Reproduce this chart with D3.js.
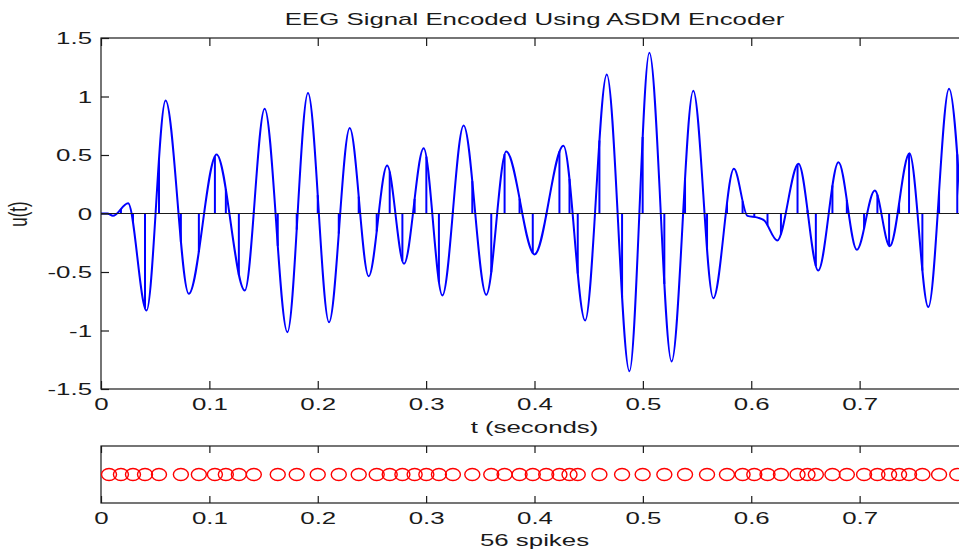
<!DOCTYPE html>
<html>
<head>
<meta charset="utf-8">
<script src="https://cdn.jsdelivr.net/npm/d3@7"></script>
<style>
body{margin:0;background:#fff;}
svg{display:block;font-family:Arial,"Liberation Sans",sans-serif;}
</style>
</head>
<body>
<svg id="eeg_svg"></svg>
<script>
// signal extrema (t in seconds, u(t))
var sigT = [0,0.006,0.011,0.025,0.042,0.0596,0.081,0.1066,0.1327,0.151,
            0.172,0.191,0.2104,0.2295,0.247,0.264,0.2796,0.2977,0.315,0.3346,
            0.3555,0.3739,0.400,0.4267,0.4467,0.4667,0.4876,0.506,0.5265,0.5465,
            0.565,0.584,0.5965,0.606,0.612,0.624,0.6436,0.6618,0.6805,0.6974,
            0.714,0.7278,0.746,0.7634,0.7825,0.795];
var sigU = [0,0,-0.02,0.088,-0.83,0.966,-0.686,0.504,-0.658,0.895,
            -1.014,1.03,-0.929,0.73,-0.536,0.41,-0.43,0.558,-0.70,0.752,
            -0.695,0.53,-0.35,0.58,-0.915,1.188,-1.348,1.373,-1.265,1.05,
            -0.724,0.382,-0.02,-0.035,-0.06,-0.23,0.425,-0.487,0.438,-0.31,
            0.197,-0.28,0.515,-0.80,1.066,-0.2];
// spike times (56)
var spikeT = [0.0074,0.0184,0.0295,0.0406,0.0535,0.0737,0.0903,0.1051,0.1152,0.1272,
              0.1410,0.1631,0.1806,0.2000,0.2194,0.2378,0.2544,0.2664,0.2781,0.2894,
              0.3002,0.3118,0.3247,0.3426,0.3601,0.3724,0.3862,0.3984,0.4108,0.4230,
              0.4323,0.4399,0.4599,0.4808,0.4998,0.5198,0.5389,0.5592,0.5776,0.5920,
              0.6028,0.6150,0.6274,0.6427,0.6519,0.6596,0.6749,0.6882,0.7041,0.7164,
              0.7272,0.7364,0.7456,0.7579,0.7733,0.7901];
var xTicks = [0,0.1,0.2,0.3,0.4,0.5,0.6,0.7];
var yTicks = [-1.5,-1,-0.5,0,0.5,1,1.5];
var titleText = "EEG Signal Encoded Using ASDM Encoder";
var xLabel = "t (seconds)";
var yLabel = "u(t)";
var spikeLabel = spikeT.length + " spikes";

var W = 959, H = 554, sx = 1.52, fs = 17;
var margin = {left: 101, right: 968, top: 38, bottom: 389};
var low = {top: 446, bottom: 503};
var ink = "#1a1a1a";

var svg = d3.select("#eeg_svg").attr("width", W).attr("height", H);

var x = d3.scaleLinear().domain([0, 0.8]).range([margin.left, margin.right]);
var y = d3.scaleLinear().domain([-1.5, 1.5]).range([margin.bottom, margin.top]);
var fmt = function(d){ return String(d); };

svg.append("clipPath").attr("id","clipTop").append("rect")
    .attr("x", margin.left).attr("y", margin.top)
    .attr("width", margin.right - margin.left).attr("height", margin.bottom - margin.top);

// ---- top panel ----
var sig = sigT.map(function(t, i){ return {t: t, u: sigU[i]}; });
var plot = svg.append("g").attr("clip-path", "url(#clipTop)");
var curve = plot.append("path")
    .datum(sig)
    .attr("fill", "none")
    .attr("stroke", "#0000ff")
    .attr("stroke-width", 2)
    .attr("d", d3.line().curve(d3.curveMonotoneX)
        .x(function(d){ return x(d.t); })
        .y(function(d){ return y(d.u); }));

// stems at spike times, from zero to the curve
var node = curve.node(), L = node.getTotalLength(), pts = [];
for (var s = 0; s <= L; s += 0.5) pts.push(node.getPointAtLength(s));
function curveY(px){
    var best = pts[0];
    for (var i = 1; i < pts.length; i++)
        if (Math.abs(pts[i].x - px) < Math.abs(best.x - px)) best = pts[i];
    return best.y;
}
plot.selectAll(".stem").data(spikeT).enter().append("line")
    .attr("class","stem")
    .attr("x1", function(d){ return x(d); }).attr("x2", function(d){ return x(d); })
    .attr("y1", y(0))
    .attr("y2", function(d){ return curveY(x(d)); })
    .attr("stroke", "#0000ff").attr("stroke-width", 2);

plot.append("line")
    .attr("x1", x(0)).attr("x2", x(0.8)).attr("y1", y(0)).attr("y2", y(0))
    .attr("stroke", ink).attr("stroke-width", 1.2);

function styleText(sel){
    sel.attr("fill", ink).style("font-size", fs + "px").style("font-family", "Arial, 'Liberation Sans', sans-serif");
}

var gx = svg.append("g").attr("transform", "translate(0," + margin.bottom + ")")
    .call(d3.axisBottom(x).tickValues(xTicks).tickFormat(fmt).tickSize(-8).tickSizeOuter(0));
var gxt = svg.append("g").attr("transform", "translate(0," + margin.top + ")")
    .call(d3.axisTop(x).tickValues(xTicks).tickFormat("").tickSize(-8).tickSizeOuter(0));
var gy = svg.append("g").attr("transform", "translate(" + margin.left + ",0)")
    .call(d3.axisLeft(y).tickValues(yTicks).tickFormat(fmt).tickSize(-8).tickSizeOuter(0));
var gyr = svg.append("g").attr("transform", "translate(" + margin.right + ",0)")
    .call(d3.axisRight(y).tickValues(yTicks).tickFormat("").tickSize(-8).tickSizeOuter(0));

[gx, gxt, gy, gyr].forEach(function(g){
    g.select(".domain").remove();
    g.selectAll(".tick line").attr("stroke", ink).attr("stroke-width", 1.2);
    g.selectAll("text").call(styleText);
});
gx.selectAll("text").attr("y", 21).attr("dy", null).attr("transform", "scale(" + sx + ",1)");
gy.selectAll("text").attr("x", -9 / sx).attr("dy", "0.35em").attr("transform", "scale(" + sx + ",1)");

svg.append("rect")
    .attr("x", margin.left).attr("y", margin.top)
    .attr("width", margin.right - margin.left).attr("height", margin.bottom - margin.top)
    .attr("fill", "none").attr("stroke", ink).attr("stroke-width", 1.2);

// ---- bottom panel (spikes) ----
var yLow = (low.top + low.bottom) / 2;
var lx = svg.append("g").attr("transform", "translate(0," + low.bottom + ")")
    .call(d3.axisBottom(x).tickValues(xTicks).tickFormat(fmt).tickSize(-7).tickSizeOuter(0));
var lxt = svg.append("g").attr("transform", "translate(0," + low.top + ")")
    .call(d3.axisTop(x).tickValues(xTicks).tickFormat("").tickSize(-7).tickSizeOuter(0));
[lx, lxt].forEach(function(g){
    g.select(".domain").remove();
    g.selectAll(".tick line").attr("stroke", ink).attr("stroke-width", 1.2);
    g.selectAll("text").call(styleText);
});
lx.selectAll("text").attr("y", 21).attr("dy", null).attr("transform", "scale(" + sx + ",1)");

svg.append("rect")
    .attr("x", margin.left).attr("y", low.top)
    .attr("width", margin.right - margin.left).attr("height", low.bottom - low.top)
    .attr("fill", "none").attr("stroke", ink).attr("stroke-width", 1.2);

svg.selectAll(".spike").data(spikeT).enter().append("ellipse")
    .attr("class", "spike")
    .attr("cx", function(d){ return x(d); })
    .attr("cy", yLow)
    .attr("rx", 7.5).attr("ry", 6)
    .attr("fill", "none").attr("stroke", "#ff0000").attr("stroke-width", 1.4);

// ---- labels ----
var cx = (margin.left + margin.right) / 2;
function label(txt, px, py, rot){
    svg.append("text")
        .attr("transform", "translate(" + px + "," + py + ") scale(" + sx + ",1)" + (rot ? " rotate(-90)" : ""))
        .attr("text-anchor", "middle")
        .text(txt).call(styleText);
}
label(titleText, cx, 25);
label(xLabel, cx, 433);
label(spikeLabel, cx, 546);
label(yLabel, 27, 214, true);
</script>
</body>
</html>
